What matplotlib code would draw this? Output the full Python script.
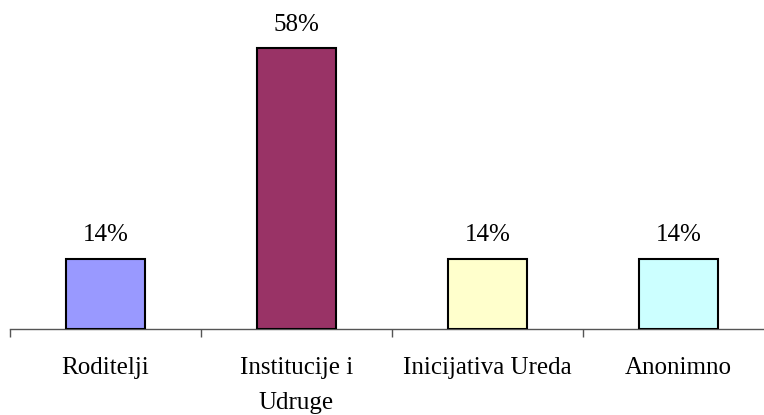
import matplotlib.pyplot as plt

categories = ["Roditelji", "Institucije i\nUdruge", "Inicijativa Ureda", "Anonimno"]
values = [14.3, 57.2, 14.3, 14.3]
value_labels = ["14%", "58%", "14%", "14%"]
colors = ["#9999FF", "#993366", "#FFFFCC", "#CCFFFF"]

plt.rcParams['font.family'] = ['Liberation Serif', 'DejaVu Serif']

fig = plt.figure(figsize=(7.64, 4.15), dpi=100)
ax = fig.add_axes([10 / 764, 86.3 / 415, 1.0, 328.7 / 415])

x = list(range(len(categories)))
ax.bar(x, values, width=0.41, color=colors, edgecolor='black', linewidth=1.5, zorder=3)

for xi, v, lab in zip(x, values, value_labels):
    ax.annotate(lab, (xi, v), xytext=(0, 9), textcoords='offset points',
                ha='center', va='bottom', fontsize=18)

ax.set_xlim(-0.5, 3.5)
ax.set_ylim(0, 67.1)

# category labels between boundary ticks
ax.set_xticks([-0.5, 0.5, 1.5, 2.5, 3.5])
ax.set_xticklabels([])
ax.tick_params(axis='x', direction='out', length=6, width=1, color='#555555')
for xi, name in zip(x, categories):
    ax.text(xi, -28 / 70 * 14.3, name, ha='center', va='top', fontsize=18,
            linespacing=1.8, transform=ax.transData)

ax.set_yticks([])
for s in ['left', 'top', 'right']:
    ax.spines[s].set_visible(False)
ax.spines['bottom'].set_color('#555555')
ax.spines['bottom'].set_linewidth(1)

fig.savefig('out.png', dpi=100)
